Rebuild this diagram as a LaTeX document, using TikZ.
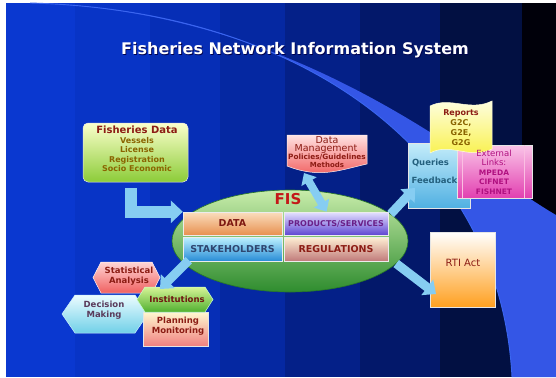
\documentclass[tikz,border=0pt]{standalone}
\usepackage{fontspec}
\setmainfont{DejaVu Sans}
\usetikzlibrary{arrows.meta,calc,shapes.geometric}
\definecolor{bA}{HTML}{0A38D0}
\definecolor{bB}{HTML}{0834C6}
\definecolor{bC}{HTML}{062EB6}
\definecolor{bD}{HTML}{0528A2}
\definecolor{bE}{HTML}{042088}
\definecolor{bF}{HTML}{03186A}
\definecolor{bG}{HTML}{021042}
\definecolor{bH}{HTML}{00000A}
\definecolor{bright}{HTML}{3456E6}
\definecolor{arcl}{HTML}{3A66F0}
\definecolor{dkred}{HTML}{8C1C14}
\definecolor{olive}{HTML}{8A6400}
\definecolor{arrowc}{HTML}{86CDF2}
\definecolor{fisred}{HTML}{C41818}
\definecolor{purp}{HTML}{6A2088}
\definecolor{slate}{HTML}{2E4670}
\definecolor{teal}{HTML}{24607E}
\definecolor{magd}{HTML}{B01080}
\definecolor{plum}{HTML}{5A3A5A}
\newcommand\myfs[2]{\fontsize{#1}{#2}\selectfont}
\newcommand\myhex[6]{%
  \path[#6] (#1,{(#3+#4)/2}) -- (#1+#5,#3) -- (#2-#5,#3) -- (#2,{(#3+#4)/2})
    -- (#2-#5,#4) -- (#1+#5,#4) -- cycle;}
\begin{document}
\begin{tikzpicture}[x=1pt,y=-1pt,
  lbl/.style={inner sep=0pt, align=center, font=\bfseries\myfs{8}{9.5}},
  cell/.style={rectangle, inner sep=0pt, draw=white!85!gray, line width=0.4pt,
    font=\bfseries\myfs{9.5}{10}},
  panel/.style={rectangle, inner sep=0pt, draw=white!80!gray, line width=0.5pt},
  barrow/.style={draw=arrowc, line width=9pt, -{Triangle[width=19pt,length=11pt]}},
  dblarrow/.style={draw=arrowc, line width=8pt, {Triangle[width=17pt,length=10pt]}-{Triangle[width=17pt,length=10pt]}},
  larrow/.style={draw=arrowc, line width=12pt, -{Triangle[width=22pt,length=12pt]}}
]
\useasboundingbox (0,0) rectangle (556,377);
\fill[white] (0,0) rectangle (556,377);
% background bands
\fill[bA] (6,3) rectangle (75,377);
\fill[bB] (75,3) rectangle (150,377);
\fill[bC] (150,3) rectangle (220,377);
\fill[bD] (220,3) rectangle (285,377);
\fill[bE] (285,3) rectangle (360,377);
\fill[bF] (360,3) rectangle (440,377);
\fill[bG] (440,3) rectangle (522,377);
\fill[bH] (522,3) rectangle (556,377);
% bright swoosh
\fill[bright] (30,3) .. controls (300,10) and (500,150) .. (512,377)
  -- (556,377) -- (556,215) .. controls (470,165) and (300,10) .. (30,3) -- cycle;
\draw[arcl, line width=0.9pt] (30,3) .. controls (300,10) and (500,150) .. (512,377);
% title
\node[font=\bfseries\myfs{16}{16}, text=black!70!blue] (titleshadow) at (295.8,50.8)
  {Fisheries Network Information System};
\node[font=\bfseries\myfs{16}{16}, text=white] (title) at (295,50)
  {Fisheries Network Information System};
% Fisheries data
\node[panel, rounded corners=5pt, minimum width=105, minimum height=59,
  top color=green!8!yellow!20!white, bottom color={rgb,255:red,140;green,204;blue,56}]
  (fd) at (135.5,152.5) {};
\node[lbl, text=olive, font=\bfseries\myfs{8}{9.6}] (fdtext) at (137,149)
  {{\color{dkred}\myfs{10}{10}Fisheries Data}\\Vessels\\License\\Registration\\Socio Economic};
% ellipse
\node[ellipse, draw={rgb,255:red,40;green,120;blue,40}, line width=0.6pt,
  minimum width=236, minimum height=102, inner sep=0pt,
  top color={rgb,255:red,200;green,236;blue,170}, bottom color={rgb,255:red,46;green,140;blue,46}]
  (fis) at (290,241) {};
\node[font=\bfseries\myfs{15}{15}, text=fisred] (fistext) at (288,199) {FIS};
% cells
\node[cell, minimum width=99, minimum height=23, text=dkred!90!black,
  top color={rgb,255:red,250;green,222;blue,190}, bottom color={rgb,255:red,232;green,144;blue,80}]
  (data) at (232.5,223.5) {DATA};
\node[cell, minimum width=104, minimum height=23, text=purp, font=\bfseries\myfs{8}{9},
  top color={rgb,255:red,228;green,226;blue,255}, bottom color={rgb,255:red,96;green,70;blue,210}]
  (prod) at (336,223.5) {PRODUCTS/SERVICES};
\node[cell, minimum width=99, minimum height=24, text=slate,
  top color={rgb,255:red,190;green,242;blue,255}, bottom color={rgb,255:red,40;green,140;blue,214}]
  (stake) at (232.5,249) {STAKEHOLDERS};
\node[cell, minimum width=104, minimum height=24, text=dkred,
  top color={rgb,255:red,255;green,240;blue,212}, bottom color={rgb,255:red,192;green,122;blue,122}]
  (reg) at (336,249) {REGULATIONS};
% L arrow from fisheries data to DATA
\coordinate (lstart) at (131,188);
\draw[larrow] (lstart) |- (data.north west);
% data management document
\path[draw=white!80!pink, line width=0.5pt,
  top color={rgb,255:red,255;green,226;blue,226}, bottom color={rgb,255:red,240;green,84;blue,84}]
  (287,135) -- (367,135) -- (367,164) .. controls (340,170) and (320,179) .. (287,166) -- cycle;
\node[inner sep=0pt, text=dkred, font=\myfs{9.5}{9.5}] (dmA) at (327,140.5) {Data};
\node[inner sep=0pt, text=dkred, font=\myfs{9.5}{9.5}] (dmB) at (326,149.5) {Management};
\node[inner sep=0pt, text=dkred, font=\bfseries\myfs{7.3}{7.3}] (dmC) at (327,157.5) {Policies/Guidelines};
\node[inner sep=0pt, text=dkred, font=\bfseries\myfs{7}{7}] (dmD) at (327,165) {Methods};
\coordinate (dmtail) at (304,173);
\coordinate (dmtip) at ($(prod.north west)!0.41!(prod.north east)$);
\draw[dblarrow] (dmtail) -- (dmtip);
% queries / feedback
\node[panel, minimum width=62, minimum height=65,
  top color={rgb,255:red,196;green,236;blue,250}, bottom color={rgb,255:red,80;green,176;blue,226}]
  (qf) at (439,175.5) {};
% external links
\node[panel, minimum width=75, minimum height=53,
  top color={rgb,255:red,250;green,196;blue,232}, bottom color={rgb,255:red,226;green,64;blue,176}]
  (ext) at (494.5,171.5) {};
\draw[white!75!magenta, line width=0.6pt] (462,145) -- (462,198);
\draw[white!75!magenta, line width=0.6pt] (524,145) -- (524,198);
% reports
\path[draw=white!85!yellow, line width=0.5pt,
  top color={rgb,255:red,255;green,255;blue,236}, bottom color={rgb,255:red,248;green,240;blue,64}]
  (430,106) .. controls (450,96) and (470,112) .. (492,101) -- (492,149)
  .. controls (470,160) and (450,142) .. (430,153) -- cycle;
\node[lbl, text=olive, font=\bfseries\myfs{8}{10}] (reptext) at (461,128)
  {{\color{dkred}Reports}\\G2C,\\G2E,\\G2G};
\node[lbl, text=magd, font=\myfs{8.5}{9.5}] (exttext) at (494,172)
  {External\\Links:\\{\bfseries\myfs{7.5}{9.5}MPEDA}\\{\bfseries\myfs{7.5}{9.5}CIFNET}\\{\bfseries\myfs{7.5}{9.5}FISHNET}};
\node[lbl, text=teal, font=\bfseries\myfs{8.5}{9}] (qtext) at (430.5,163) {Queries};
\node[lbl, text=teal, font=\bfseries\myfs{8.5}{9}] (fbtext) at (434.5,180) {Feedback};
\coordinate (qtip) at (415,188);
\draw[barrow] (fis.15) -- (qtip);
% RTI
\node[panel, minimum width=65, minimum height=75,
  top color=white, bottom color={rgb,255:red,255;green,160;blue,32}]
  (rti) at (462.5,269.5) {};
\node[text=dkred, font=\myfs{10}{10}, inner sep=0pt] (rtitext) at (463,263) {RTI Act};
\coordinate (rtitip) at (436,294);
\draw[barrow] (fis.-12) -- (rtitip);
% hexagons
\myhex{93}{160}{262}{293}{8}{draw=white!80!pink, line width=0.5pt,
  top color={rgb,255:red,255;green,214;blue,214}, bottom color={rgb,255:red,240;green,96;blue,96}}
\node[lbl, text=dkred, font=\bfseries\myfs{8.5}{9.5}] (stat) at (129,276) {Statistical\\Analysis};
\myhex{62}{148}{295}{333}{13}{draw=white!80!cyan, line width=0.5pt,
  top color={rgb,255:red,236;green,252;blue,255}, bottom color={rgb,255:red,112;green,208;blue,232}}
\node[lbl, text=plum, font=\bfseries\myfs{8.5}{10.5}] (dec) at (104,310) {Decision\\Making};
\node[panel, minimum width=65, minimum height=34,
  top color={rgb,255:red,255;green,248;blue,208}, bottom color={rgb,255:red,240;green,128;blue,128}]
  (plan) at (175.5,329) {};
\node[lbl, text=dkred, font=\bfseries\myfs{8.5}{10}] (plantext) at (178,326) {Planning\\Monitoring};
\myhex{137}{213}{287}{312}{8}{draw=white!80!green, line width=0.5pt,
  top color={rgb,255:red,214;green,244;blue,150}, bottom color={rgb,255:red,80;green,176;blue,48}}
\node[lbl, text=dkred!80!black, font=\bfseries\myfs{8.5}{9.5}] (inst) at (177,299.5) {Institutions};
\coordinate (insttip) at (160,289);
\draw[barrow] ($(stake.south west)+(6,-1)$) -- (insttip);
\end{tikzpicture}
\end{document}
